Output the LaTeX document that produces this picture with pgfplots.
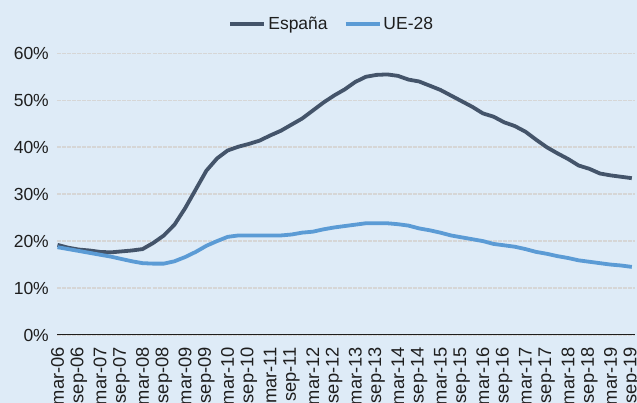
\documentclass[border=0pt]{standalone}
\usepackage{fontspec}
\setmainfont{Liberation Sans}
\usepackage{pgfplots}
\usepackage{pgfplotstable}
\pgfplotsset{compat=1.18}
\definecolor{BG}{HTML}{DEEBF7}
\definecolor{ESP}{HTML}{44546A}
\definecolor{UE}{HTML}{5B9BD5}
\definecolor{GRD}{HTML}{D6D6D6}
\definecolor{TXT}{HTML}{1E1E1E}
\newcommand\cf{\fontsize{17.5}{21}\selectfont}
\newcommand\xf{\fontsize{18.3}{22}\selectfont}

% quarterly: mar-06 ... sep-19, tasa en %
\pgfplotstableread{
q esp ue
0 19.2 18.7
1 18.6 18.3
2 18.2 17.9
3 18.0 17.5
4 17.7 17.1
5 17.6 16.7
6 17.8 16.2
7 18.0 15.7
8 18.3 15.3
9 19.6 15.2
10 21.2 15.2
11 23.5 15.7
12 27.0 16.6
13 31.0 17.7
14 35.0 19.0
15 37.6 20.0
16 39.3 20.9
17 40.1 21.2
18 40.7 21.2
19 41.4 21.2
20 42.5 21.2
21 43.5 21.2
22 44.8 21.4
23 46.1 21.8
24 47.8 22.0
25 49.5 22.5
26 51.0 22.9
27 52.3 23.2
28 53.9 23.5
29 55.0 23.8
30 55.4 23.8
31 55.5 23.8
32 55.2 23.6
33 54.4 23.3
34 54.0 22.7
35 53.1 22.3
36 52.2 21.8
37 51.0 21.2
38 49.8 20.8
39 48.6 20.4
40 47.2 20.0
41 46.5 19.4
42 45.3 19.1
43 44.5 18.8
44 43.3 18.3
45 41.6 17.7
46 40.0 17.3
47 38.7 16.8
48 37.5 16.4
49 36.1 15.9
50 35.4 15.6
51 34.4 15.3
52 34.0 15.0
53 33.7 14.8
54 33.4 14.5
}\datos

\begin{document}
\begin{tikzpicture}[font=\cf, text=TXT]
\fill[BG] (-57.5pt,-68pt) rectangle (579.5pt,335pt);
\begin{axis}[
  at={(0pt,0pt)}, anchor=south west,
  scale only axis, width=577.5pt, height=281.7pt,
  xmin=0, xmax=54.3, ymin=0, ymax=60,
  axis x line*=bottom, axis y line*=left,
  x axis line style={TXT, line width=1pt},
  y axis line style={draw=none},
  major tick length=0pt,
  xtick={0,2,...,54},
  xticklabels={mar-06,sep-06,mar-07,sep-07,mar-08,sep-08,mar-09,sep-09,
    mar-10,sep-10,mar-11,sep-11,mar-12,sep-12,mar-13,sep-13,mar-14,sep-14,
    mar-15,sep-15,mar-16,sep-16,mar-17,sep-17,mar-18,sep-18,mar-19,sep-19},
  xticklabel style={rotate=90, anchor=east, inner sep=1pt, font=\xf, text=TXT},
  xticklabel shift=11pt,
  ytick={0,10,...,60},
  yticklabel={\pgfmathprintnumber{\tick}\%},
  yticklabel style={inner sep=0pt, font=\cf, text=TXT},
  yticklabel shift=8.5pt,
  /pgf/number format/assume math mode=true,
  ymajorgrids,
  grid style={GRD, line width=1.4pt, dash pattern=on 4pt off 1pt},
  clip=false,
  legend style={at={(0.475,1.104)}, anchor=center, draw=none, fill=none,
    font=\cf, text=TXT, legend columns=2,
    /tikz/every even column/.append style={column sep=14pt}},
  legend image code/.code={\draw[#1] (0pt,0pt) -- (34pt,0pt);},
]
\addplot[ESP, line width=3.8pt, line join=round] table[x=q, y=esp] {\datos};
\addlegendentry{España}
\addplot[UE, line width=3.8pt, line join=round] table[x=q, y=ue] {\datos};
\addlegendentry{UE-28}
\end{axis}
\pgfresetboundingbox
\useasboundingbox (-57.5pt,-68pt) rectangle (579.5pt,335pt);
\end{tikzpicture}
\end{document}
